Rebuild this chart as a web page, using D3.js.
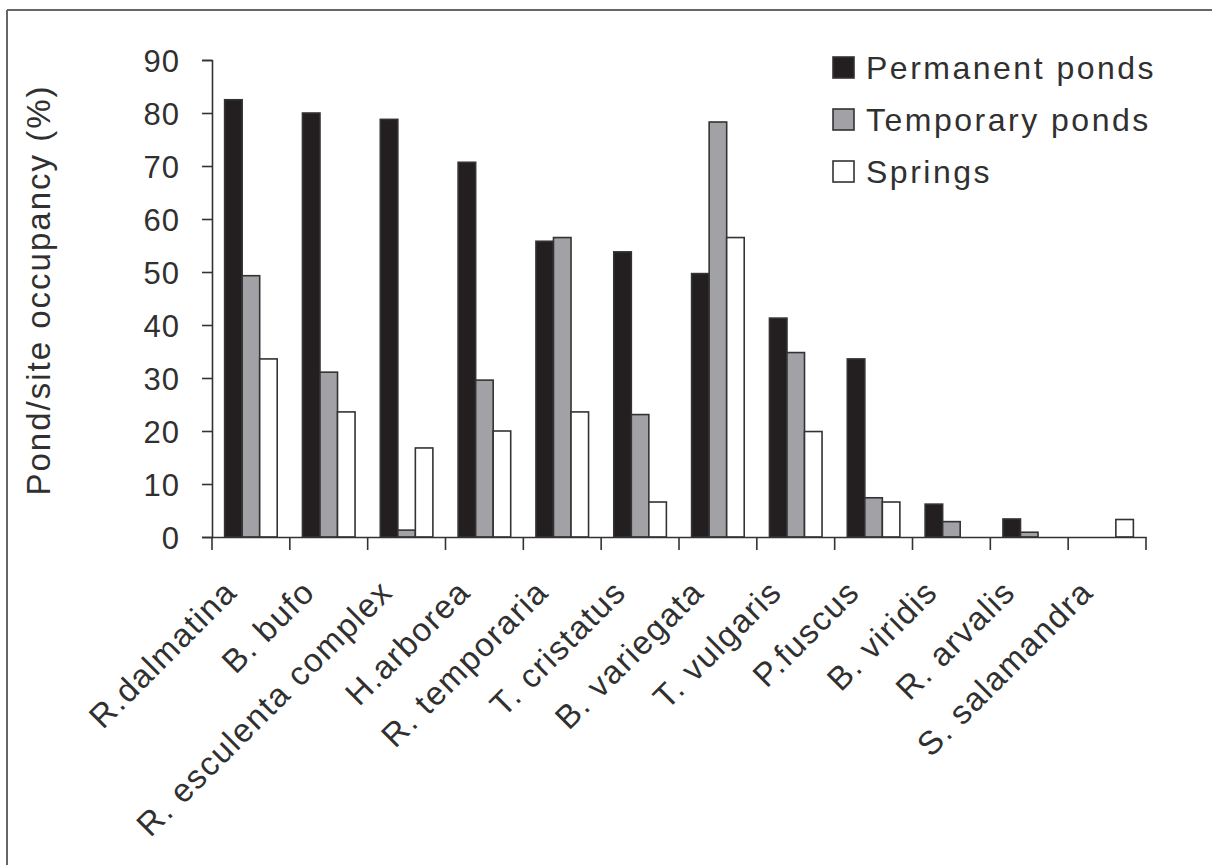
<!DOCTYPE html>
<html>
<head>
<meta charset="utf-8">
<script src="https://cdn.jsdelivr.net/npm/d3@7"></script>
<style>
  html, body { margin: 0; padding: 0; background: #fff; }
  svg { display: block; }
  text { font-family: "Liberation Sans", Arial, sans-serif; fill: #303030; }
</style>
</head>
<body>
<svg id="chart" width="1212" height="865"></svg>
<script>
const categories = ["R.dalmatina", "B. bufo", "R. esculenta complex", "H.arborea", "R. temporaria",
  "T. cristatus", "B. variegata", "T. vulgaris", "P.fuscus", "B. viridis", "R. arvalis", "S. salamandra"];
const seriesNames = ["Permanent ponds", "Temporary ponds", "Springs"];
const permanent = [82.5, 80.0, 78.8, 70.7, 55.8, 53.8, 49.7, 41.3, 33.6, 6.2, 3.4, 0];
const temporary = [49.3, 31.1, 1.3, 29.6, 56.5, 23.1, 78.3, 34.8, 7.4, 2.9, 0.9, 0];
const springs   = [33.6, 23.6, 16.8, 20.0, 23.6, 6.6, 56.5, 19.9, 6.6, 0, 0, 3.3];
const yTicks = [0, 10, 20, 30, 40, 50, 60, 70, 80, 90];
const fills = ["#231f20", "#a2a2a6", "#ffffff"];

const seriesValues = [permanent, temporary, springs];
const svg = d3.select("#chart");

// outer frame (left and top edges visible)
svg.append("line").attr("x1", 7).attr("y1", 10).attr("x2", 1212).attr("y2", 10)
  .attr("stroke", "#666").attr("stroke-width", 2);
svg.append("line").attr("x1", 7).attr("y1", 10).attr("x2", 7).attr("y2", 865)
  .attr("stroke", "#666").attr("stroke-width", 2);

const pLeft = 212, pRight = 1146, pTop = 60, pBottom = 537;
const x = d3.scaleBand().domain(categories).range([pLeft, pRight]).paddingInner(0).paddingOuter(0);
const xs = d3.scaleBand().domain(seriesNames).range([0, x.bandwidth()]).paddingInner(0).paddingOuter(0.72);
const y = d3.scaleLinear().domain([0, 90]).range([pBottom, pTop]);

// bars
const g = svg.append("g");
seriesNames.forEach((s, si) => {
  g.selectAll(null).data(categories).enter().append("rect")
    .attr("x", d => x(d) + xs(s))
    .attr("y", (d, i) => y(seriesValues[si][i]))
    .attr("width", xs.bandwidth())
    .attr("height", (d, i) => pBottom - y(seriesValues[si][i]))
    .attr("fill", fills[si])
    .attr("stroke", (d, i) => seriesValues[si][i] > 0 ? "#333" : "none")
    .attr("stroke-width", 1.6);
});

// y axis
const yAxis = svg.append("g").attr("transform", `translate(${pLeft},0)`)
  .call(d3.axisLeft(y).tickValues(yTicks).tickSize(10).tickPadding(22).tickFormat(d3.format("d")));
yAxis.select(".domain").attr("stroke", "#333").attr("stroke-width", 1.6);
yAxis.selectAll(".tick line").attr("stroke", "#333").attr("stroke-width", 1.6);
yAxis.selectAll(".tick text").style("font-size", "31px").style("letter-spacing", "1px")
  .attr("fill", "#303030").attr("dy", "0.36em");

// x axis
const xAxis = svg.append("g").attr("transform", `translate(0,${pBottom})`)
  .call(d3.axisBottom(x).tickSize(0).tickFormat(""));
xAxis.select(".domain").attr("stroke", "#333").attr("stroke-width", 1.6);
const tickPos = d3.range(categories.length + 1).map(i => pLeft + i * x.step());
svg.selectAll(".xtick").data(tickPos).enter().append("line")
  .attr("x1", d => d).attr("x2", d => d).attr("y1", pBottom).attr("y2", pBottom + 13)
  .attr("stroke", "#333").attr("stroke-width", 1.6);

svg.selectAll(".xlab").data(categories).enter().append("text")
  .attr("transform", d => `translate(${x(d) + x.bandwidth() / 2 - 12},${pBottom + 57}) rotate(-45)`)
  .attr("text-anchor", "end")
  .style("font-size", "33px").style("letter-spacing", "1.5px")
  .text(d => d);

// y title
svg.append("text")
  .attr("transform", `translate(50,290) rotate(-90)`)
  .attr("text-anchor", "middle")
  .style("font-size", "33px").style("letter-spacing", "2px")
  .text("Pond/site occupancy (%)");

// legend
const leg = svg.append("g");
seriesNames.forEach((s, i) => {
  const cy = 67 + i * 52;
  leg.append("rect").attr("x", 833).attr("y", cy - 10).attr("width", 21).attr("height", 21)
    .attr("fill", fills[i]).attr("stroke", "#333").attr("stroke-width", 1.6);
  leg.append("text").attr("x", 866).attr("y", cy).attr("dy", "0.36em")
    .style("font-size", "32px").style("letter-spacing", "2.5px")
    .text(s);
});
</script>
</body>
</html>
